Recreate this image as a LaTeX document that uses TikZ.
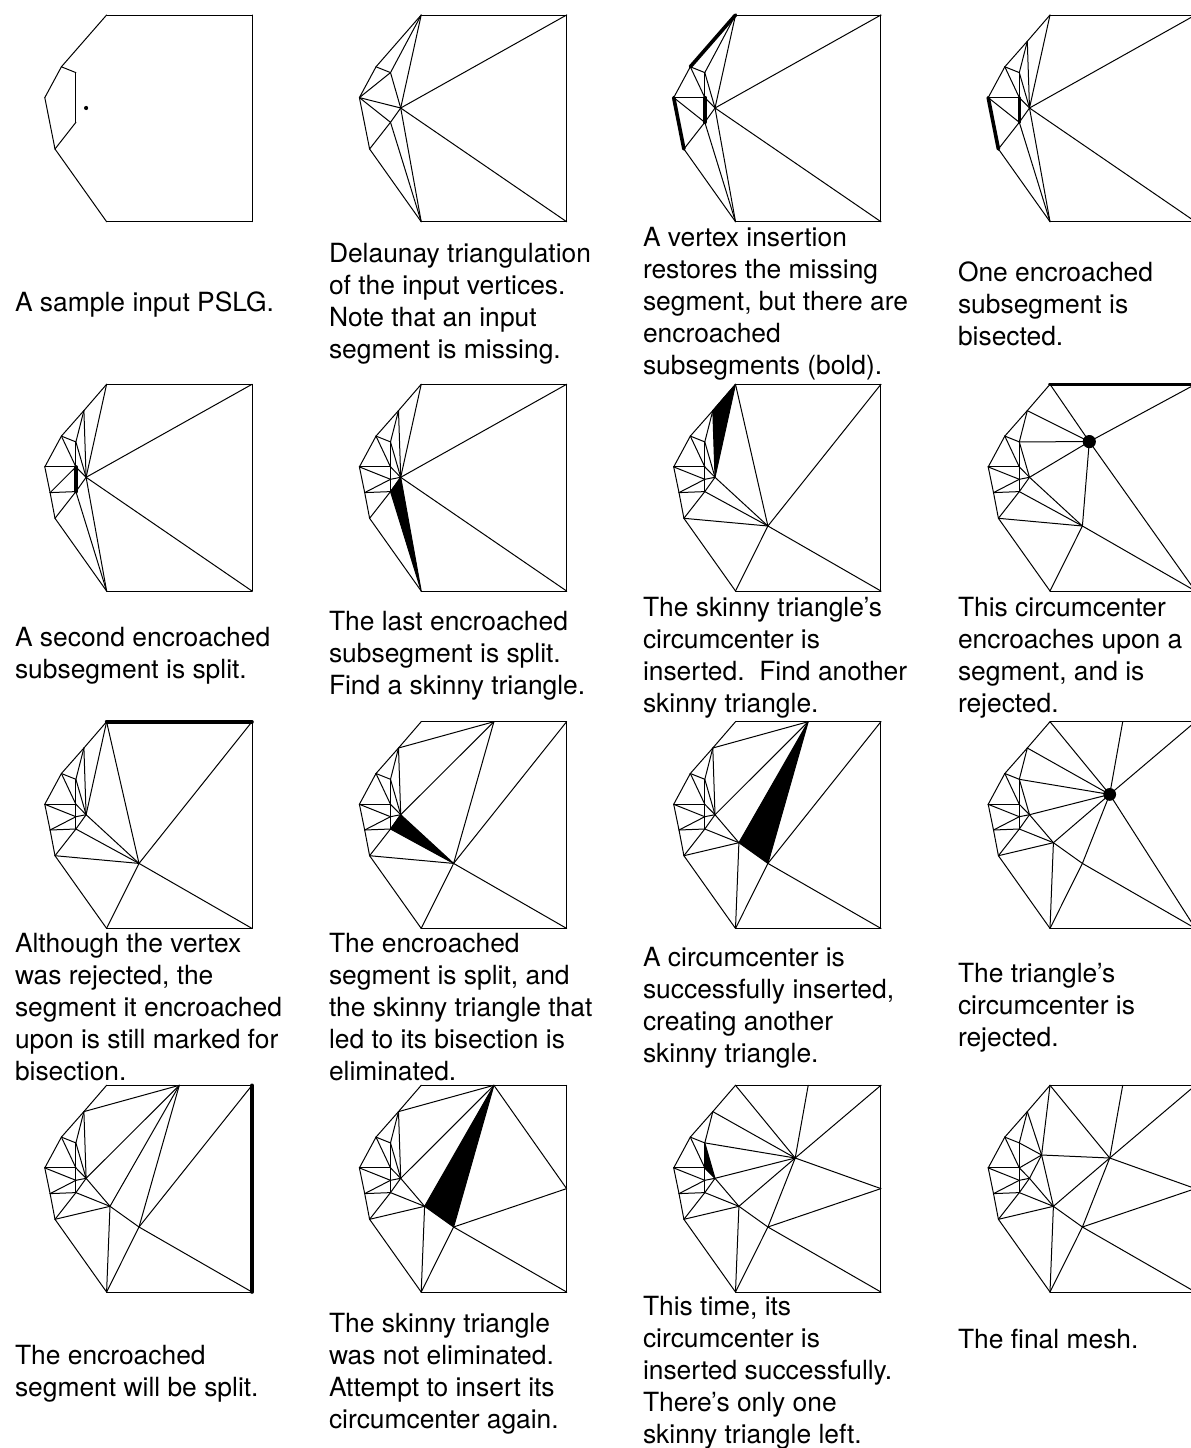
\documentclass[tikz,border=0pt]{standalone}
\usepackage{fontspec}
\setmainfont{TeX Gyre Heros}
\tikzset{
  meshline/.style={draw=black,line width=1pt,line cap=round,line join=round},
  boldseg/.style={draw=black,line width=3.6pt,line cap=round},
  skinny/.style={fill=black,draw=black,line width=1pt,line join=round},
  caption/.style={anchor=west,inner sep=0pt,outer sep=0pt,align=left,font=\fontsize{26.4}{31.9}\selectfont},
  panel/.style={shift={#1}}
}
\newcommand{\meshverts}{%
  \coordinate (A) at (0,0);
  \coordinate (B) at (145.4,0);
  \coordinate (C) at (145.4,206.7);
  \coordinate (D) at (0,206.7);
  \coordinate (E) at (-51.6,134);
  \coordinate (F) at (-61.8,82.6);
  \coordinate (G) at (-45.2,51.8);
  \coordinate (H) at (-30.7,57.6);
  \coordinate (I) at (-30.7,107.3);
  \coordinate (J) at (-30.7,82.6);
  \coordinate (K) at (-22.7,26.3);
  \coordinate (L) at (-56.5,108.3);
  \coordinate (M) at (-30.7,95);
  \coordinate (P) at (-20.5,93);
  \coordinate (N) at (32.4,141.7);
  \coordinate (Q) at (39.3,57.3);
  \coordinate (R) at (72.7,0);
  \coordinate (S) at (3.4,121);
  \coordinate (T) at (59.7,72.7);
  \coordinate (U) at (145.4,103.3);
  \coordinate (V) at (-8.4,69.7);
}
\newcommand{\leftcluster}{G/K,K/H,G/H,G/J,H/J,F/J,F/M,L/M,L/I,J/M,M/I,J/P,M/P,I/P,E/I,F/L,L/E,E/D,F/G,K/A}
\newcommand{\meshedges}[1]{\edef\edgelist{#1}\foreach \a/\b in \edgelist {\draw[meshline] (\a) -- (\b);}}
\newcommand{\boldedges}[1]{\edef\edgelist{#1}\foreach \a/\b in \edgelist {\draw[boldseg] (\a) -- (\b);}}
\begin{document}
\begin{tikzpicture}[x=1pt,y=-1pt]
\clip (0,0) rectangle (1191,1448);
% ---- row 1
\begin{scope}[panel={(106.6,15)}]
  \meshverts
  \meshedges{A/B,B/C,C/D,D/E,E/F,F/G,G/A,G/H,H/I,I/E}
  \fill (P) circle (2.1);
\end{scope}
\begin{scope}[panel={(421.2,15)}]
  \meshverts
  \meshedges{A/B,B/C,C/D,D/E,E/F,F/G,G/A,G/H,H/A,A/P,F/H,F/P,F/I,E/I,I/P,H/P,P/B,P/C,P/D,I/D}
\end{scope}
\begin{scope}[panel={(735.5,15)}]
  \meshverts
  \meshedges{A/B,B/C,C/D,D/E,G/F,G/H,H/A,A/P,G/J,F/J,F/I,E/I,I/P,H/P,H/J,J/P,P/B,P/C,P/D,I/D}
  \boldedges{A/G,E/F,J/I}
\end{scope}
\begin{scope}[panel={(1050,15)}]
  \meshverts
  \meshedges{A/B,B/C,C/D,D/E,G/F,K/A,G/K,G/H,H/K,K/P,A/P,G/J,F/J,F/I,E/I,I/P,H/P,H/J,J/P,P/B,P/C,P/D,I/D}
  \boldedges{E/F,J/I}
\end{scope}
% ---- row 2
\begin{scope}[panel={(106.6,384.3)}]
  \meshverts
  \meshedges{A/B,B/C,C/D,D/E,G/F,K/A,G/K,G/H,H/K,K/P,A/P,G/J,F/J,F/L,L/E,J/L,L/I,E/I,I/P,H/P,H/J,J/P,P/B,P/C,P/D,I/D}
  \boldedges{J/I}
\end{scope}
\begin{scope}[panel={(421.2,384.3)}]
  \meshverts
  \filldraw[skinny] (I) -- (P) -- (D) -- cycle;
  \meshedges{\leftcluster,A/B,B/C,C/D,H/P,K/P,A/P,P/B,P/C}
\end{scope}
\begin{scope}[panel={(735.5,384.3)}]
  \meshverts
  \filldraw[skinny] (A) -- (K) -- (P) -- cycle;
  \meshedges{\leftcluster,A/B,B/C,C/D,H/P,A/N,P/N,I/N,E/N,D/N,B/N,C/N}
\end{scope}
\begin{scope}[panel={(1050,384.3)}]
  \meshverts
  \meshedges{\leftcluster,B/C,C/D,H/P,A/Q,K/Q,H/Q,P/Q,B/Q,N/Q,C/Q,P/N,I/N,E/N,D/N,C/N}
  \boldedges{A/B}
  \fill (Q) circle (6.6);
\end{scope}
% ---- row 3
\begin{scope}[panel={(106.6,721.7)}]
  \meshverts
  \meshedges{\leftcluster,B/C,C/D,H/P,K/P,A/P,A/N,P/N,I/N,E/N,D/N,B/N,C/N}
  \boldedges{A/B}
\end{scope}
\begin{scope}[panel={(421.2,721.7)}]
  \meshverts
  \filldraw[skinny] (I) -- (P) -- (N) -- cycle;
  \meshedges{\leftcluster,A/R,R/B,B/C,C/D,H/P,K/P,K/R,P/R,N/R,E/N,D/N,B/N,C/N}
\end{scope}
\begin{scope}[panel={(735.5,721.7)}]
  \meshverts
  \filldraw[skinny] (S) -- (N) -- (R) -- cycle;
  \meshedges{\leftcluster,A/R,R/B,B/C,C/D,H/P,K/P,K/R,P/R,B/N,C/N,D/N,S/D,S/P,S/I,S/E}
\end{scope}
\begin{scope}[panel={(1050,721.7)}]
  \meshverts
  \meshedges{\leftcluster,A/R,R/B,B/C,C/D,H/P,A/T,K/T,H/T,P/T,S/T,N/T,R/T,B/T,C/T,S/N,N/C,N/D,S/D,S/P,S/I,S/E}
  \fill (T) circle (6.4);
\end{scope}
% ---- row 4
\begin{scope}[panel={(106.6,1085.3)}]
  \meshverts
  \meshedges{\leftcluster,A/R,R/B,C/D,H/P,K/P,K/R,P/R,S/R,N/R,N/B,N/C,N/D,S/N,S/D,S/P,S/I,S/E}
  \boldedges{B/C}
\end{scope}
\begin{scope}[panel={(421.2,1085.3)}]
  \meshverts
  \filldraw[skinny] (S) -- (N) -- (R) -- cycle;
  \meshedges{\leftcluster,A/R,R/B,B/U,U/C,C/D,H/P,K/P,K/R,P/R,R/U,N/U,N/C,N/D,S/D,S/P,S/I,S/E}
\end{scope}
\begin{scope}[panel={(735.5,1085.3)}]
  \meshverts
  \filldraw[skinny] (H) -- (J) -- (P) -- cycle;
  \meshedges{\leftcluster,A/R,R/B,B/U,U/C,C/D,A/T,K/T,H/T,P/T,S/T,N/T,R/T,B/T,U/T,N/U,N/C,N/D,S/N,S/D,S/P,S/I,S/E}
\end{scope}
\begin{scope}[panel={(1050,1085.3)}]
  \meshverts
  \meshedges{\leftcluster,A/R,R/B,B/U,U/C,C/D,A/V,K/V,H/V,J/V,P/V,S/V,T/V,A/T,R/T,B/T,U/T,S/T,N/T,N/U,N/C,N/D,S/N,S/D,S/P,S/I,S/E}
\end{scope}
% ---- captions
\node[caption] (c1)  at (15,305)  {A sample input PSLG.};
\node[caption] (c2)  at (329,304) {Delaunay triangulation\\of the input vertices.\\Note that an input\\segment is missing.};
\node[caption] (c3)  at (643,304) {A vertex insertion\\restores the missing\\segment, but there are\\encroached\\subsegments (bold).};
\node[caption] (c4)  at (958,304) {One encroached\\subsegment is\\bisected.};
\node[caption] (c5)  at (15,656)  {A second encroached\\subsegment is split.};
\node[caption] (c6)  at (329,656) {The last encroached\\subsegment is split.\\Find a skinny triangle.};
\node[caption] (c7)  at (643,658) {The skinny triangle’s\\circumcenter is\\inserted.\ \ Find another\\skinny triangle.};
\node[caption] (c8)  at (958,658) {This circumcenter\\encroaches upon a\\segment, and is\\rejected.};
\node[caption] (c9)  at (15,1007) {Although the vertex\\was rejected, the\\segment it encroached\\upon is still marked for\\bisection.};
\node[caption] (c10) at (329,1007) {The encroached\\segment is split, and\\the skinny triangle that\\led to its bisection is\\eliminated.};
\node[caption] (c11) at (643,1008) {A circumcenter is\\successfully inserted,\\creating another\\skinny triangle.};
\node[caption] (c12) at (958,1008) {The triangle’s\\circumcenter is\\rejected.};
\node[caption] (c13) at (15,1374) {The encroached\\segment will be split.};
\node[caption] (c14) at (329,1374) {The skinny triangle\\was not eliminated.\\Attempt to insert its\\circumcenter again.};
\node[caption] (c15) at (643,1373) {This time, its\\circumcenter is\\inserted successfully.\\There’s only one\\skinny triangle left.};
\node[caption] (c16) at (958,1339) {The final mesh.};
\end{tikzpicture}
\end{document}
